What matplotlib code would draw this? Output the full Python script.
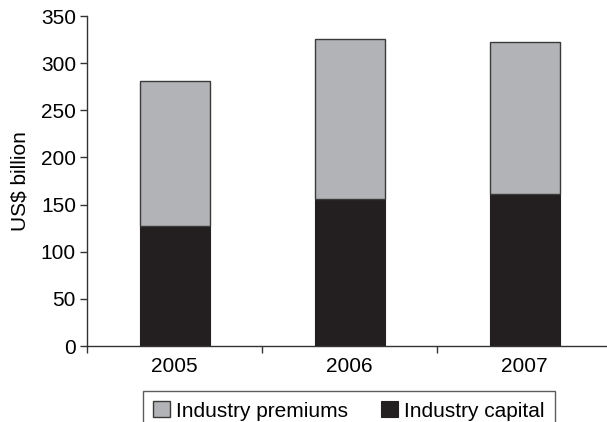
import matplotlib.pyplot as plt
import numpy as np

plt.rcParams['font.family'] = ['Liberation Sans', 'DejaVu Sans']

years = ["2005", "2006", "2007"]
capital = [127, 156, 161]
premiums = [154, 170, 161]

GRAY = "#b1b3b6"
BLACK = "#231f20"
FS = 15

fig = plt.figure(figsize=(6.07, 4.22), dpi=100)
ax = fig.add_axes([87 / 607, 76 / 422, 525 / 607, 330 / 422])

x = np.arange(len(years))
ax.bar(x, capital, width=0.4, color=BLACK, edgecolor=BLACK, linewidth=0.8,
       label="Industry capital")
ax.bar(x, premiums, width=0.4, bottom=capital, color=GRAY, edgecolor="#3a3a3a",
       linewidth=1.0, label="Industry premiums")

ax.set_xlim(-0.5, 2.5)
ax.set_ylim(0, 350)
ax.set_yticks(range(0, 351, 50))
ax.set_xticks([-0.5, 0.5, 1.5])
ax.set_xticklabels([])
ax.set_xticks(x, minor=True)
ax.set_xticklabels(years, minor=True)
ax.tick_params(axis="x", which="minor", length=0, labelsize=FS, pad=8)
ax.tick_params(axis="x", which="major", length=5, width=1, color="#333333")
ax.tick_params(axis="y", length=5, width=1, color="#333333", labelsize=FS, pad=3)

for side in ["top", "right"]:
    ax.spines[side].set_visible(False)
for side in ["left", "bottom"]:
    ax.spines[side].set_color("#333333")
    ax.spines[side].set_linewidth(1)

ax.set_ylabel("US$ billion", fontsize=FS, labelpad=8)

handles, labels = ax.get_legend_handles_labels()
leg = fig.legend(handles[::-1], labels[::-1], loc="upper center",
                 bbox_to_anchor=(349 / 607, 1 - 391 / 422), ncol=2,
                 fontsize=FS, frameon=True, fancybox=False,
                 handlelength=0.8, handleheight=0.8, handletextpad=0.3,
                 columnspacing=1.6, borderpad=0.5, borderaxespad=0)
leg.get_frame().set_edgecolor("#333333")
leg.get_frame().set_linewidth(1)

fig.savefig("out.png", dpi=100)
